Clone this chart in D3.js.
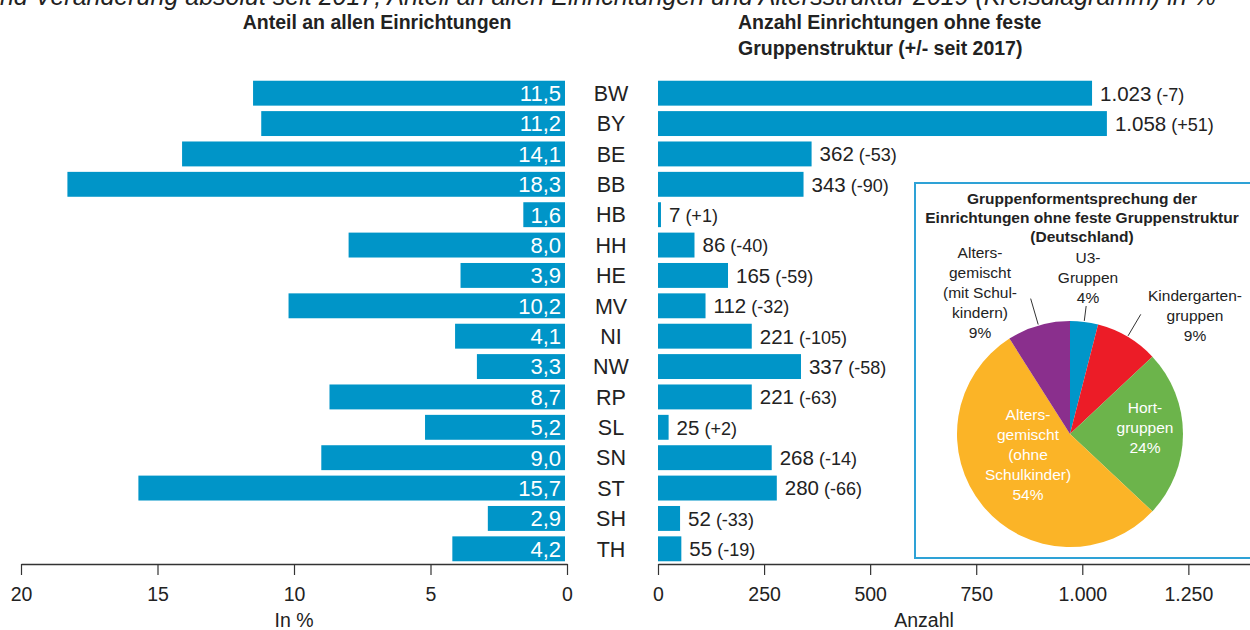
<!DOCTYPE html>
<html>
<head>
<meta charset="utf-8">
<script src="https://cdn.jsdelivr.net/npm/d3@7"></script>
<style>
  body { margin: 0; background: #fff; }
  svg { display: block; font-family: "Liberation Sans", Arial, sans-serif; }
</style>
</head>
<body>
<div id="chart"></div>
<script>
    var width = 1250,
      height = 630;

    // data
    var laender = ["BW","BY","BE","BB","HB","HH","HE","MV","NI","NW","RP","SL","SN","ST","SH","TH"];
    var anteil = [11.5, 11.2, 14.1, 18.3, 1.6, 8.0, 3.9, 10.2, 4.1, 3.3, 8.7, 5.2, 9.0, 15.7, 2.9, 4.2];
    var anzahl = [1023, 1058, 362, 343, 7, 86, 165, 112, 221, 337, 221, 25, 268, 280, 52, 55];
    var veraenderung = [-7, 51, -53, -90, 1, -40, -59, -32, -105, -58, -63, 2, -14, -66, -33, -19];
    var anteilTicks = [20, 15, 10, 5, 0];
    var anzahlTicks = [0, 250, 500, 750, 1000, 1250];

    var gruppen = ["U3-Gruppen", "Kindergartengruppen", "Hortgruppen", "Altersgemischt (ohne Schulkinder)", "Altersgemischt (mit Schulkindern)"];
    var gruppenAnteil = [4, 9, 24, 54, 9];
    var gruppenText = [
      ["U3-", "Gruppen", "4%"],
      ["Kindergarten-", "gruppen", "9%"],
      ["Hort-", "gruppen", "24%"],
      ["Alters-", "gemischt", "(ohne", "Schulkinder)", "54%"],
      ["Alters-", "gemischt", "(mit Schul-", "kindern)", "9%"]
    ];

    var blue = "#0095c8";
    var pieColors = ["#0096c9", "#ec1c27", "#6cb44b", "#fbb427", "#8a2f8d"];

    var de = d3.formatLocale({decimal: ",", thousands: ".", grouping: [3], currency: ["", " €"]});
    var fmt1 = de.format(".1f"),
        fmtN = de.format(",d");

    var svg = d3.select("#chart").append("svg")
      .attr("width", width)
      .attr("height", height);

    // cut-off caption line at the very top
    svg.append("text")
      .attr("x", -14)
      .attr("y", 5)
      .style("font-size", "25px")
      .style("font-style", "italic")
      .style("fill", "#222")
      .text("und Veränderung absolut seit 2017, Anteil an allen Einrichtungen und Altersstruktur 2019 (Kreisdiagramm) in %");

    var y = d3.scaleBand()
      .domain(laender)
      .range([78, 564])
      .paddingInner(0.18)
      .paddingOuter(0.09);

    var xL = d3.scaleLinear().domain([20, 0]).range([21, 567]);
    var xR = d3.scaleLinear().domain([0, 1400]).range([658, 1252]);

    var rows = laender.map(function(d, i) {
      return {land: d, anteil: anteil[i], anzahl: anzahl[i], diff: veraenderung[i]};
    });

    // titles
    svg.append("text")
      .attr("x", 377).attr("y", 29)
      .attr("text-anchor", "middle")
      .style("font-size", "19.5px").style("font-weight", "bold").style("fill", "#222")
      .text("Anteil an allen Einrichtungen");
    svg.append("text")
      .attr("x", 738).attr("y", 29)
      .style("font-size", "19.5px").style("font-weight", "bold").style("fill", "#222")
      .text("Anzahl Einrichtungen ohne feste");
    svg.append("text")
      .attr("x", 738).attr("y", 55)
      .style("font-size", "19.5px").style("font-weight", "bold").style("fill", "#222")
      .text("Gruppenstruktur (+/- seit 2017)");

    // left bars
    svg.selectAll(".barL")
      .data(rows)
      .enter().append("rect")
      .attr("class", "barL")
      .attr("x", function(d) { return xL(d.anteil); })
      .attr("y", function(d) { return y(d.land); })
      .attr("width", function(d) { return xL(0) - 2 - xL(d.anteil); })
      .attr("height", y.bandwidth())
      .style("fill", blue);

    svg.selectAll(".labL")
      .data(rows)
      .enter().append("text")
      .attr("class", "labL")
      .attr("x", xL(0) - 6)
      .attr("y", function(d) { return y(d.land) + y.bandwidth() / 2; })
      .attr("dy", "0.36em")
      .attr("text-anchor", "end")
      .style("font-size", "22px")
      .style("fill", "#fff")
      .text(function(d) { return fmt1(d.anteil); });

    // country codes
    svg.selectAll(".land")
      .data(rows)
      .enter().append("text")
      .attr("class", "land")
      .attr("x", 611)
      .attr("y", function(d) { return y(d.land) + y.bandwidth() / 2; })
      .attr("dy", "0.36em")
      .attr("text-anchor", "middle")
      .style("font-size", "21.5px")
      .style("fill", "#222")
      .text(function(d) { return d.land; });

    // right bars
    svg.selectAll(".barR")
      .data(rows)
      .enter().append("rect")
      .attr("class", "barR")
      .attr("x", xR(0))
      .attr("y", function(d) { return y(d.land); })
      .attr("width", function(d) { return xR(d.anzahl) - xR(0); })
      .attr("height", y.bandwidth())
      .style("fill", blue);

    var labR = svg.selectAll(".labR")
      .data(rows)
      .enter().append("text")
      .attr("class", "labR")
      .attr("x", function(d) { return xR(d.anzahl) + 8; })
      .attr("y", function(d) { return y(d.land) + y.bandwidth() / 2; })
      .attr("dy", "0.36em")
      .style("font-size", "20.5px")
      .style("fill", "#222");
    labR.append("tspan").text(function(d) { return fmtN(d.anzahl); });
    labR.append("tspan")
      .attr("dx", 5)
      .style("font-size", "18px")
      .text(function(d) { return "(" + (d.diff > 0 ? "+" : "") + d.diff + ")"; });

    // axes
    var axL = svg.append("g")
      .attr("transform", "translate(0,564)")
      .call(d3.axisBottom(xL).tickValues(anteilTicks).tickSize(11).tickSizeOuter(0).tickPadding(12));
    var axR = svg.append("g")
      .attr("transform", "translate(0,564)")
      .call(d3.axisBottom(xR).tickValues(anzahlTicks).tickFormat(fmtN).tickSize(11).tickSizeOuter(0).tickPadding(12));
    [axL, axR].forEach(function(ax) {
      ax.select(".domain").style("stroke", "#333").style("stroke-width", 1.5);
      ax.selectAll(".tick line").style("stroke", "#333").style("stroke-width", 1.2);
      ax.selectAll(".tick text")
        .style("font-size", "19.5px")
        .style("fill", "#222")
        .style("font-family", "'Liberation Sans', Arial, sans-serif");
    });

    svg.append("text")
      .attr("x", 294).attr("y", 627)
      .attr("text-anchor", "middle")
      .style("font-size", "19.5px").style("fill", "#222")
      .text("In %");
    svg.append("text")
      .attr("x", 924).attr("y", 627)
      .attr("text-anchor", "middle")
      .style("font-size", "19.5px").style("fill", "#222")
      .text("Anzahl");

    // pie inset
    svg.append("rect")
      .attr("x", 915).attr("y", 183)
      .attr("width", 360).attr("height", 375)
      .style("fill", "#fff")
      .style("stroke", "#2ea2d6")
      .style("stroke-width", 2);

    ["Gruppenformentsprechung der", "Einrichtungen ohne feste Gruppenstruktur", "(Deutschland)"]
      .forEach(function(t, i) {
        svg.append("text")
          .attr("x", 1082).attr("y", 204 + i * 19)
          .attr("text-anchor", "middle")
          .style("font-size", "15.5px").style("font-weight", "bold").style("fill", "#222")
          .text(t);
      });

    var cx = 1070, cy = 434, radius = 113;
    var pieData = d3.pie().sort(null)(gruppenAnteil);
    var arc = d3.arc().innerRadius(0).outerRadius(radius);

    var gPie = svg.append("g").attr("transform", "translate(" + cx + "," + cy + ")");
    gPie.selectAll("path")
      .data(pieData)
      .enter().append("path")
      .attr("d", arc)
      .style("fill", function(d, i) { return pieColors[i]; });

    // label anchors (relative to pie centre) and leader line lengths
    var labelPos = [
      {x: 18, y: -171, inside: false, lead: 16},
      {x: 125, y: -133, inside: false, lead: 26},
      {x: 75, y: -21, inside: true},
      {x: -42, y: -14, inside: true},
      {x: -90, y: -176, inside: false, lead: 28}
    ];

    pieData.forEach(function(d, i) {
      var p = labelPos[i];
      var a = (d.startAngle + d.endAngle) / 2;
      if (!p.inside) {
        gPie.append("line")
          .attr("x1", Math.sin(a) * (radius + 1))
          .attr("y1", -Math.cos(a) * (radius + 1))
          .attr("x2", Math.sin(a) * (radius + p.lead))
          .attr("y2", -Math.cos(a) * (radius + p.lead))
          .style("stroke", "#333")
          .style("stroke-width", 1);
      }
      var t = gPie.append("text")
        .attr("text-anchor", "middle")
        .style("font-size", "15.5px")
        .style("fill", p.inside ? "#fff" : "#222");
      gruppenText[i].forEach(function(line, j) {
        t.append("tspan")
          .attr("x", p.x)
          .attr("y", p.y + j * 20)
          .text(line);
      });
    });
</script>
</body>
</html>
